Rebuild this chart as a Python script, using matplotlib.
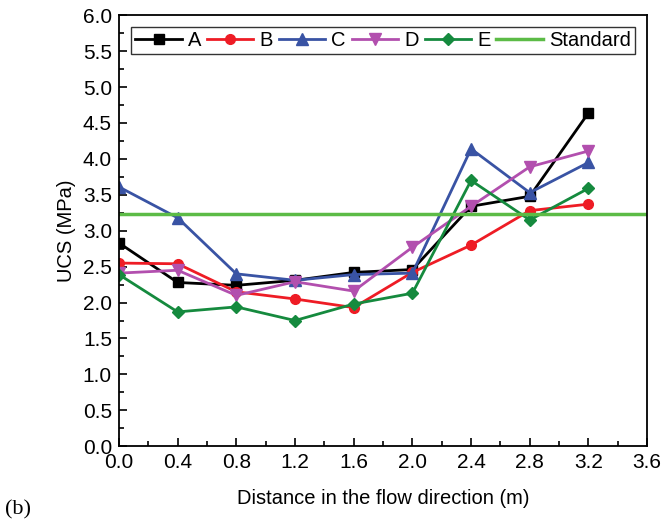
import matplotlib
matplotlib.use("Agg")
import matplotlib.pyplot as plt
from matplotlib.ticker import MultipleLocator

plt.rcParams["font.family"] = ["Liberation Sans", "DejaVu Sans"]

distance = [0.0, 0.4, 0.8, 1.2, 1.6, 2.0, 2.4, 2.8, 3.2]
ucs_a = [2.83, 2.28, 2.24, 2.31, 2.42, 2.46, 3.34, 3.48, 4.64]
ucs_b = [2.55, 2.54, 2.15, 2.05, 1.93, 2.42, 2.80, 3.28, 3.37]
ucs_c = [3.61, 3.18, 2.40, 2.31, 2.39, 2.41, 4.14, 3.53, 3.95]
ucs_d = [2.41, 2.45, 2.10, 2.29, 2.16, 2.77, 3.34, 3.89, 4.11]
ucs_e = [2.39, 1.87, 1.94, 1.75, 1.98, 2.13, 3.70, 3.15, 3.59]
standard = 3.23

fig = plt.figure(figsize=(6.72, 5.25), dpi=100)
ax = fig.add_axes([0.177, 0.150, 0.786, 0.821])

ax.plot(distance, ucs_a, color="black", marker="s", ms=6.5, lw=2, label="A")
ax.plot(distance, ucs_b, color="#ee1c25", marker="o", ms=7, lw=2, label="B")
ax.plot(distance, ucs_c, color="#3953a4", marker="^", ms=8, lw=2, label="C")
ax.plot(distance, ucs_d, color="#b24fae", marker="v", ms=8, lw=2, label="D")
ax.plot(distance, ucs_e, color="#158a3e", marker="D", ms=6, lw=2, label="E")
ax.axhline(standard, color="#5cbb46", lw=2.5, label="Standard")

ax.set_xlim(0, 3.6)
ax.set_ylim(0, 6.0)
ax.xaxis.set_major_locator(MultipleLocator(0.4))
ax.xaxis.set_minor_locator(MultipleLocator(0.2))
ax.yaxis.set_major_locator(MultipleLocator(0.5))
ax.yaxis.set_minor_locator(MultipleLocator(0.25))
ax.tick_params(which="both", direction="in", top=False, right=False,
               labelsize=15, width=1.2)
ax.tick_params(which="major", length=6, pad=5)
ax.tick_params(which="minor", length=3.5)
for s in ax.spines.values():
    s.set_linewidth(1.3)

ax.set_xlabel("Distance in the flow direction (m)", fontsize=14.5, labelpad=12)
ax.set_ylabel("UCS (MPa)", fontsize=14.5, labelpad=5)

leg = ax.legend(loc="upper center", ncol=6, fontsize=14.5, frameon=True,
                fancybox=False, edgecolor="black", handlelength=2.3,
                handletextpad=0.3, columnspacing=0.3, borderpad=0.2,
                borderaxespad=0, bbox_to_anchor=(0.5, 0.972))
leg.get_frame().set_linewidth(1.0)

fig.text(0.008, 0.02, "(b)", fontsize=16, family=["Liberation Serif", "DejaVu Serif"])

fig.savefig("out.png", dpi=100)
